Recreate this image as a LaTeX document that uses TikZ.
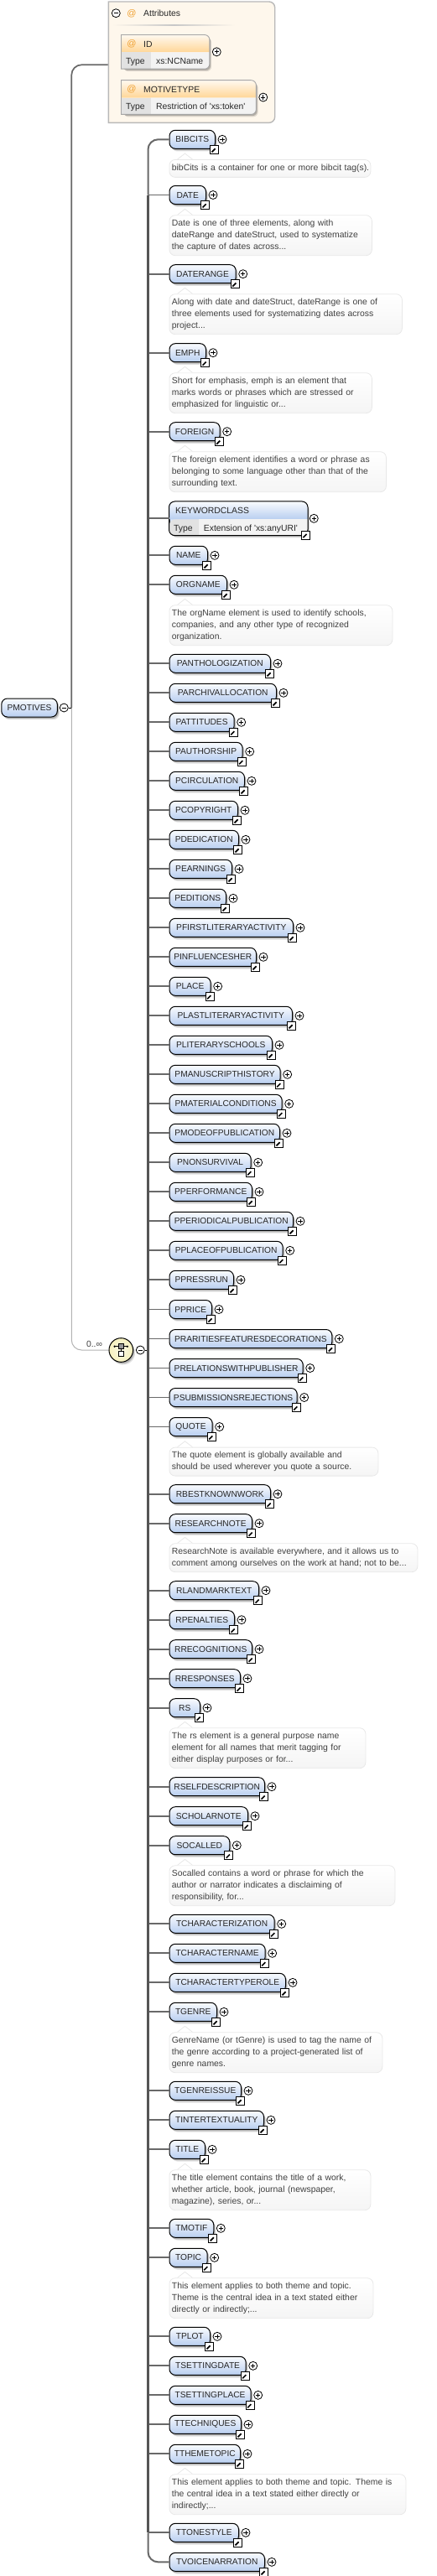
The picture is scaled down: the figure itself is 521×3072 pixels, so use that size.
\documentclass[tikz,border=0pt]{standalone}
\usepackage{fontspec}
\setmainfont{Liberation Sans}
\newfontfamily\plainsans{Liberation Sans}
\usetikzlibrary{arrows,shadows,calc}
\definecolor{spinegray}{RGB}{85,85,85}
\definecolor{stubgray}{RGB}{105,105,105}
\definecolor{elemblue}{RGB}{184,206,240}
\definecolor{attrorange}{RGB}{255,214,150}
\definecolor{panelcream}{RGB}{254,247,236}
\definecolor{panelgray}{RGB}{184,184,184}
\definecolor{celldark}{RGB}{226,226,226}
\definecolor{celllight}{RGB}{243,243,243}
\definecolor{notegray}{RGB}{232,232,232}
\definecolor{notetext}{RGB}{64,64,64}
\definecolor{atorange}{RGB}{240,160,48}
\definecolor{seqyellow}{RGB}{246,241,190}
\tikzset{
    softshadow/.style={drop shadow={shadow xshift=1.5pt, shadow yshift=-2pt, opacity=.2, fill=black}, drop shadow={shadow xshift=2.5pt, shadow yshift=-3.2pt, opacity=.12, fill=black}},
    element/.style={rectangle, draw=black, line width=1pt, rounded corners=7pt, top color=white!92!elemblue, bottom color=elemblue, minimum width=#1, minimum height=22pt, anchor=west, inner xsep=1pt, inner ysep=0pt, font=\fontsize{10.2}{12}\selectfont, text=black!85, softshadow},
    linkbox/.style={rectangle, draw=black, line width=1pt, fill=white, minimum size=10pt, inner sep=0pt, path picture={
        \draw [line width=1.7pt] ([shift={(-3pt,-3pt)}]path picture bounding box.center) -- ([shift={(1.5pt,1.5pt)}]path picture bounding box.center);
        \fill ([shift={(3.5pt,3.5pt)}]path picture bounding box.center) -- ([shift={(-1pt,3.5pt)}]path picture bounding box.center) -- ([shift={(3.5pt,-1pt)}]path picture bounding box.center) -- cycle;}},
    btn/.style={circle, draw=black, line width=.8pt, fill=white, minimum size=10pt, inner sep=0pt},
    plusbtn/.style={btn, path picture={\draw [line width=.8pt] ([xshift=-2.6pt]path picture bounding box.center) -- ([xshift=2.6pt]path picture bounding box.center) ([yshift=-2.6pt]path picture bounding box.center) -- ([yshift=2.6pt]path picture bounding box.center);}},
    minusbtn/.style={btn, path picture={\draw [line width=.8pt] ([xshift=-2.6pt]path picture bounding box.center) -- ([xshift=2.6pt]path picture bounding box.center);}},
    stub/.style={draw=stubgray, line width=1.9pt},
    spine/.style={draw=spinegray, line width=2.8pt},
    note/.style n args={2}{rectangle, draw=notegray, line width=.8pt, rounded corners=7pt, top color=white, bottom color=black!4, text width=#1, minimum height=#2, anchor=north west, inner xsep=3pt, inner ysep=0pt, align=left, font=\fontsize{10.4}{14}\selectfont, text=notetext},
    notetip/.style={draw=notegray, line width=.8pt, fill=white},
    celltext/.style={anchor=west, inner sep=0pt, text height=7.5pt, text depth=0pt, font=\fontsize{10.4}{12}\selectfont, text=black!85},
    attrcard/.style={rectangle, fill=white, rounded corners=6pt, minimum width=#1, minimum height=40.3pt, anchor=north west, inner sep=0pt, softshadow},
    attrframe/.style={draw=black!35, line width=.9pt},
    panel/.style={draw=panelgray, line width=1.4pt, fill=panelcream},
    atsign/.style={anchor=center, inner sep=0pt, font=\fontsize{11}{12}\selectfont, text=atorange},
    seqnode/.style={circle, draw=black, line width=1pt, inner color=white!60!seqyellow, outer color=seqyellow, minimum size=28.6pt, inner sep=0pt, softshadow},
    seqbox/.style={rectangle, draw=black, line width=.8pt, minimum size=6pt, inner sep=0pt}
}
% one element without its connector: name, text, centre y, width
\newcommand{\elemnode}[4]{
    \node [element=#4] (#1) at (201.5,#3) {#2};
    \node [linkbox] (#1-link) at ([shift={(-1.5pt,-0.5pt)}]#1.south east) {};
    \node [plusbtn] (#1-plus) at ([xshift=8pt]#1.east) {};
}
% one element row
\newcommand{\elem}[4]{
    \elemnode{#1}{#2}{#3}{#4}
    \path [stub] (spine |- #1.west) -- (#1.west);
}
% comment below a row: name, top, text width, height, text
\newcommand{\elemnote}[5]{
    \node [note={#3}{#4}] (#1-note) at (201.5,#2) {#5};
    \path [notetip] ([xshift=10pt]#1-note.north west) -- ++(9,-7) -- ++(9,7);
}
% attribute card: name, text, type, top, width
\newcommand{\attrib}[5]{
    \node [attrcard=#5] (#1) at (144.5,#4) {};
    \coordinate (#1-split) at ([yshift=-21pt]#1.north west);
    \coordinate (#1-cell) at (180,0);
    \shade [top color=white!85!attrorange, bottom color=attrorange] (#1.north west) [rounded corners=6pt] -- (#1.north east) [sharp corners] -- (#1.east |- #1-split) -- (#1-split) -- cycle;
    \fill [celllight] (#1-cell |- #1-split) -- (#1.east |- #1-split) [rounded corners=6pt] -- (#1.south east) [sharp corners] -- (#1-cell |- #1.south) -- cycle;
    \fill [celldark] (#1-split) rectangle (#1-cell |- #1.south);
    \draw [attrframe] (#1.north west) [rounded corners=6pt] -- (#1.north east) -- (#1.south east) [sharp corners] -- (#1.south west) -- cycle;
    \node [atsign] (#1-at) at ([shift={(12.5pt,-11pt)}]#1.north west) {@};
    \node [celltext] (#1-name) at ([shift={(26.5pt,-10.8pt)}]#1.north west) {#2};
    \node [celltext] (#1-typelabel) at ([shift={(5.5pt,-10.3pt)}]#1-split) {Type};
    \node [celltext] (#1-type) at ([shift={(41.5pt,-10.3pt)}]#1-split) {#3};
    \node [plusbtn] (#1-plus) at ([xshift=8.4pt]#1.east) {};
}
\begin{document}
\begin{tikzpicture}[x=1pt, y=-1pt]
    \useasboundingbox (0,0) rectangle (521,3072);
    \coordinate (spine) at (176.5,0);

    % Root element
    \node [element=66.5] (pmotives) at (1.3,844) {PMOTIVES};
    \node [minusbtn] (pmotives-minus) at (76.3,844) {};
    \coordinate (branch) at (85.3,844);
    \coordinate (attrs-in) at (130,77.3);
    \coordinate (seq-in) at (130,1610);
    \draw [draw=black!30, line width=1pt, rounded corners=12pt] (branch) -- (branch |- seq-in) -- (seq-in);
    \draw [draw=stubgray, line width=1.7pt, rounded corners=12pt] (branch) -- (branch |- attrs-in) -- (attrs-in);
    \draw [line width=.9pt] (pmotives-minus) -- (branch);

    % Attributes panel
    \node [rectangle, minimum width=198pt, minimum height=144pt, anchor=north west, inner sep=0pt] (attrs) at (129.3,2) {};
    \draw [panel] (attrs.north west) [rounded corners=7pt] -- (attrs.north east) -- (attrs.south east) [sharp corners] -- (attrs.south west) -- cycle;
    \node [minusbtn] (attrs-minus) at (138.3,15.7) {};
    \node [atsign] (attrs-at) at (157,16.5) {@};
    \node [celltext] (attrs-title) at (171,16) {Attributes};
    \shade [left color=panelcream, right color=panelcream, middle color=black!22] (134,29.3) rectangle (280,30.7);
    \attrib{id}{ID}{xs:NCName}{41.5}{105}
    \attrib{motivetype}{MOTIVETYPE}{{\plainsans Restriction of 'xs:token'}}{95.7}{160.5}

    % Sequence
    \node [seqnode] (seq) at (144.3,1610) {};
    \node [minusbtn] (seq-minus) at (167.3,1610) {};
    \node [anchor=center, inner sep=0pt, font=\fontsize{10.4}{12}\selectfont, text=notetext] (seq-occurs) at (112.5,1603) {0..∞};
    \draw [line width=.9pt] (seq-minus) -- (spine |- seq-minus);
    \node [seqbox, fill=black!40] (seq-top) at ([yshift=4.3pt]seq.center) {};
    \node [seqbox, fill=white] (seq-bottom) at ([yshift=-4.3pt]seq.center) {};
    \coordinate (seq-left) at ([xshift=-7.6pt]seq-top.center);
    \coordinate (seq-right) at ([xshift=7.6pt]seq-top.center);
    \draw [line width=.9pt] (seq-left) -- (seq-top.west) (seq-top.east) -- (seq-right) (seq-top) -- (seq-bottom);
    \fill (seq-left) circle (1.3pt) (seq-right) circle (1.3pt);

    % Child elements
    \elemnode{bibcits}{BIBCITS}{166.3}{54.5}
    \elemnote{bibcits}{190}{234}{21pt}{\mbox{bibCits is a container for one or more bibcit tag(s).}}
    \elem{date}{DATE}{232.5}{43.5}
    \elemnote{date}{256.3}{235.5}{48pt}{Date is one of three elements, along with\\dateRange and dateStruct, used to systematize\\the capture of dates across...}
    \elem{daterange}{DATERANGE}{326.7}{79.2}
    \elemnote{daterange}{350.3}{271.5}{48pt}{Along with date and dateStruct, dateRange is one of\\three elements used for systematizing dates across\\project...}
    \elem{emph}{EMPH}{420.7}{43.5}
    \elemnote{emph}{444.3}{235.5}{48pt}{Short for emphasis, emph is an element that\\marks words or phrases which are stressed or\\emphasized for linguistic or...}
    \elem{foreign}{FOREIGN}{514.7}{60.2}
    \elemnote{foreign}{538.3}{252.5}{48pt}{The foreign element identifies a word or phrase as\\belonging to some language other than that of the\\surrounding text.}

    % KEYWORDCLASS has a type row
    \node [element=164.5, minimum height=39.7pt] (keywordclass) at (201.5,618.3) {};
    \coordinate (keywordclass-split) at (202,619.3);
    \coordinate (keywordclass-cell) at (237,0);
    \shade [top color=white!92!elemblue, bottom color=elemblue] (keywordclass.north west) [rounded corners=7pt] -- (keywordclass.north east) [sharp corners] -- (keywordclass.east |- keywordclass-split) -- (keywordclass-split) -- cycle;
    \fill [celllight] (keywordclass-cell |- keywordclass-split) -- (keywordclass.east |- keywordclass-split) -- (keywordclass.south east) -- (keywordclass-cell |- keywordclass.south) -- cycle;
    \fill [celldark] (keywordclass-split) [sharp corners] -- (keywordclass-cell |- keywordclass-split) -- (keywordclass-cell |- keywordclass.south) [rounded corners=7pt] -- (keywordclass.south west) -- cycle;
    \draw [line width=1pt, rounded corners=7pt] (keywordclass.north west) rectangle (keywordclass.south east);
    \node [celltext] (keywordclass-name) at (209,609) {KEYWORDCLASS};
    \node [celltext] (keywordclass-typelabel) at (207,629.5) {Type};
    \node [celltext] (keywordclass-type) at (242.7,629.5) {\plainsans Extension of 'xs:anyURI'};
    \node [linkbox] (keywordclass-link) at (364.5,638) {};
    \node [plusbtn] (keywordclass-plus) at (374.3,618.3) {};
    \path [stub] (spine |- keywordclass.west) -- (keywordclass.west);

    \elem{name}{NAME}{662.3}{45.5}
    \elem{orgname}{ORGNAME}{697.3}{68.5}
    \elemnote{orgname}{721.3}{260}{48pt}{The orgName element is used to identify schools,\\companies, and any other type of recognized\\organization.}
    \elem{panthologization}{PANTHOLOGIZATION}{791.3}{120.5}
    \elem{parchivallocation}{PARCHIVALLOCATION}{826.3}{127.5}
    \elem{pattitudes}{PATTITUDES}{861.3}{77.2}
    \elem{pauthorship}{PAUTHORSHIP}{896.3}{87.2}
    \elem{pcirculation}{PCIRCULATION}{931.3}{89.5}
    \elem{pcopyright}{PCOPYRIGHT}{966.3}{81.5}
    \elem{pdedication}{PDEDICATION}{1001.3}{82.5}
    \elem{pearnings}{PEARNINGS}{1036.3}{74.5}
    \elem{peditions}{PEDITIONS}{1071.3}{67.5}
    \elem{pfirstliteraryactivity}{PFIRSTLITERARYACTIVITY}{1106.3}{147.5}
    \elem{pinfluencesher}{PINFLUENCESHER}{1141.3}{103.5}
    \elem{place}{PLACE}{1176.3}{49.2}
    \elem{plastliteraryactivity}{PLASTLITERARYACTIVITY}{1211.3}{146.5}
    \elem{pliteraryschools}{PLITERARYSCHOOLS}{1246.3}{122.5}
    \elem{pmanuscripthistory}{PMANUSCRIPTHISTORY}{1281.3}{132.2}
    \elem{pmaterialconditions}{PMATERIALCONDITIONS}{1316.3}{134.2}
    \elem{pmodeofpublication}{PMODEOFPUBLICATION}{1351.3}{131.5}
    \elem{pnonsurvival}{PNONSURVIVAL}{1386.3}{97.2}
    \elem{pperformance}{PPERFORMANCE}{1421.3}{98.5}
    \elem{pperiodicalpublication}{PPERIODICALPUBLICATION}{1456.3}{147.5}
    \elem{pplaceofpublication}{PPLACEOFPUBLICATION}{1491.3}{135.2}
    \elem{ppressrun}{PPRESSRUN}{1526.3}{76.5}
    \elem{pprice}{PPRICE}{1561.5}{50.5}
    \elem{prarities}{PRARITIESFEATURESDECORATIONS}{1596.5}{193.8}
    \elem{prelations}{PRELATIONSWITHPUBLISHER}{1631.5}{159.2}
    \elem{psubmissions}{PSUBMISSIONSREJECTIONS}{1666.5}{152.2}
    \elem{quote}{QUOTE}{1701.5}{51.2}
    \elemnote{quote}{1725.7}{243}{34pt}{The quote element is globally available and\\should be used wherever you quote a source.}
    \elem{rbestknownwork}{RBESTKNOWNWORK}{1781.7}{120.5}
    \elem{researchnote}{RESEARCHNOTE}{1816.7}{98.5}
    \elemnote{researchnote}{1840.3}{290}{34pt}{ResearchNote is available everywhere, and it allows us to\\comment among ourselves on the work at hand; not to be...}
    \elem{rlandmarktext}{RLANDMARKTEXT}{1896.7}{106.5}
    \elem{rpenalties}{RPENALTIES}{1931.7}{77.5}
    \elem{rrecognitions}{RRECOGNITIONS}{1966.7}{98.5}
    \elem{rresponses}{RRESPONSES}{2001.7}{84.5}
    \elem{rs}{RS\hspace{15pt}}{2036.7}{36.5}
    \elemnote{rs}{2060.3}{228}{48pt}{The rs element is a general purpose name\\element for all names that merit tagging for\\either display purposes or for...}
    \elem{rselfdescription}{RSELFDESCRIPTION}{2130.7}{113.5}
    \elem{scholarnote}{SCHOLARNOTE}{2165.7}{93.5}
    \elem{socalled}{SOCALLED}{2200.7}{71.8}
    \elemnote{socalled}{2224.3}{263}{48pt}{Socalled contains a word or phrase for which the\\author or narrator indicates a disclaiming of\\responsibility, for...}
    \elem{tcharacterization}{TCHARACTERIZATION}{2294.3}{125.2}
    \elem{tcharactername}{TCHARACTERNAME}{2329.3}{114.2}
    \elem{tcharactertyperole}{TCHARACTERTYPEROLE}{2364.3}{138.5}
    \elem{tgenre}{TGENRE}{2399.3}{56.5}
    \elemnote{tgenre}{2423.3}{248}{48pt}{GenreName (or tGenre) is used to tag the name of\\the genre according to a project-generated list of\\genre names.}
    \elem{tgenreissue}{TGENREISSUE}{2493.3}{85.5}
    \elem{tintertextuality}{TINTERTEXTUALITY}{2528.3}{112.5}
    \elem{title}{TITLE}{2563.3}{42.5}
    \elemnote{title}{2587.3}{234}{48pt}{The title element contains the title of a work,\\whether article, book, journal (newspaper,\\magazine), series, or...}
    \elem{tmotif}{TMOTIF}{2657.3}{52.8}
    \elem{topic}{TOPIC}{2692.3}{45.2}
    \elemnote{topic}{2716.3}{237}{48pt}{This element applies to both theme and topic.\\Theme is the central idea in a text stated either\\directly or indirectly;...}
    \elem{tplot}{TPLOT}{2786.3}{48.5}
    \elem{tsettingdate}{TSETTINGDATE}{2821.3}{91.2}
    \elem{tsettingplace}{TSETTINGPLACE}{2856.3}{97.2}
    \elem{ttechniques}{TTECHNIQUES}{2891.3}{85.5}
    \elem{tthemetopic}{TTHEMETOPIC}{2926.3}{84.5}
    \elemnote{tthemetopic}{2950.3}{276}{48pt}{This element applies to both theme and topic. Theme is\\the central idea in a text stated either directly or\\indirectly;...}
    \elem{ttonestyle}{TTONESTYLE}{3020.3}{82.5}
    \elemnode{tvoicenarration}{TVOICENARRATION}{3055.3}{113.5}

    % Spine
    \draw [stub, line width=2pt, rounded corners=12pt] (bibcits.west) -- (spine |- bibcits.west) -- (spine |- date.west);
    \draw [stub, line width=2pt, rounded corners=12pt] (spine |- ttonestyle.west) -- (spine |- tvoicenarration.west) -- (tvoicenarration.west);
    \path [spine] (spine |- date.west) -- (spine |- ttonestyle.west);
\end{tikzpicture}
\end{document}
